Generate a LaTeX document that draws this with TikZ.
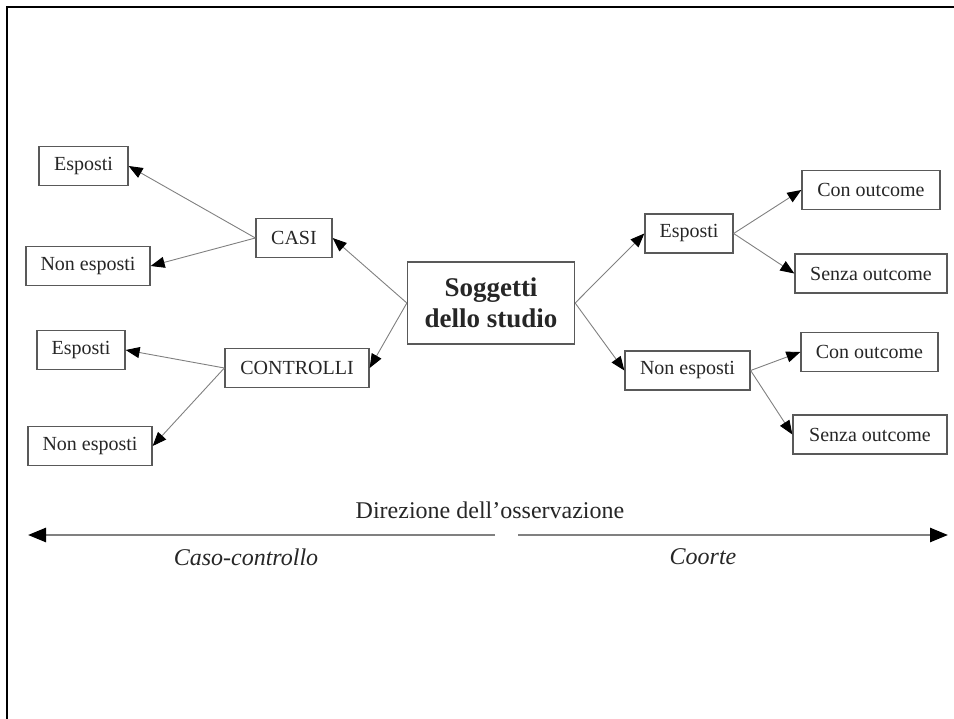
\documentclass[tikz,border=0pt]{standalone}
\usepackage{fontspec}
\setmainfont{Liberation Serif}
\usetikzlibrary{arrows.meta}
\definecolor{boxgray}{gray}{0.35}
\definecolor{linkgray}{gray}{0.5}
\definecolor{inkgray}{gray}{0.15}
\begin{document}
\begin{tikzpicture}[
 x=1pt,y=-1pt,
 box/.style={draw=boxgray,line width=1.3pt,inner sep=0pt,minimum height=39pt,
   text=inkgray,font=\fontsize{20pt}{24pt}\selectfont},
 link/.style={draw=linkgray,line width=.9pt,
   -{Triangle[length=14pt,width=11pt,color=black,fill=black]}},
 axis/.style={draw=linkgray,line width=2.6pt,
   -{Triangle[length=18pt,width=14pt,color=black,fill=black]}},
 label/.style={text=inkgray,font=\fontsize{24pt}{28pt}\selectfont}]
 \useasboundingbox (0,0) rectangle (954,719);
 % Frame cut by the page on the right and at the bottom.
 \draw[black,line width=2pt] (7,719)--(7,7)--(954,7);
 % Centre node.
 \node[box,minimum width=167pt,minimum height=82pt,align=center,
   font=\fontsize{27pt}{31pt}\selectfont\bfseries] (sogg) at (491,303)
   {Soggetti\\dello studio};
 % Case-control branch.
 \node[box,minimum width=76pt]  (casi) at (294,238){CASI};
 \node[box,minimum width=144pt] (ctrl) at (297,368){CONTROLLI};
 \node[box,minimum width=89pt]  (casiE) at (83.5,166){Esposti};
 \node[box,minimum width=124pt] (casiN) at (88,266){Non esposti};
 \node[box,minimum width=88pt]  (ctrlE) at (81,350){Esposti};
 \node[box,minimum width=124pt] (ctrlN) at (90,446){Non esposti};
 % Cohort branch.
 \node[box,minimum width=88pt]  (coE) at (689,233.5){Esposti};
 \node[box,minimum width=125pt] (coN) at (687.5,370.5){Non esposti};
 \node[box,minimum width=138pt] (coEc) at (871,190){Con outcome};
 \node[box,minimum width=152pt] (coEs) at (871,273.5){Senza outcome};
 \node[box,minimum width=137pt] (coNc) at (869.5,352){Con outcome};
 \node[box,minimum width=154pt] (coNs) at (870,434.5){Senza outcome};
 % Connectors.
 \foreach \a/\b in {sogg.west/casi.east,sogg.west/ctrl.east,
   casi.west/casiE.east,casi.west/casiN.east,
   ctrl.west/ctrlE.east,ctrl.west/ctrlN.east,
   sogg.east/coE.west,sogg.east/coN.west,
   coE.east/coEc.west,coE.east/coEs.west,
   coN.east/coNc.west,coN.east/coNs.west}{
   \draw[link] (\a)--(\b);
 }
 % Direction of observation.
 \node[label] (dir) at (490,510){Direzione dell'osservazione};
 \coordinate (midL) at (495,535); \coordinate (endL) at (28,535);
 \coordinate (midR) at (518,535); \coordinate (endR) at (948,535);
 \draw[axis] (midL)--(endL);
 \draw[axis] (midR)--(endR);
 \node[label,font=\fontsize{24pt}{28pt}\selectfont\itshape] (cc) at (246,557){Caso-controllo};
 \node[label,font=\fontsize{24pt}{28pt}\selectfont\itshape] (coorte) at (703,557){Coorte};
\end{tikzpicture}
\end{document}
